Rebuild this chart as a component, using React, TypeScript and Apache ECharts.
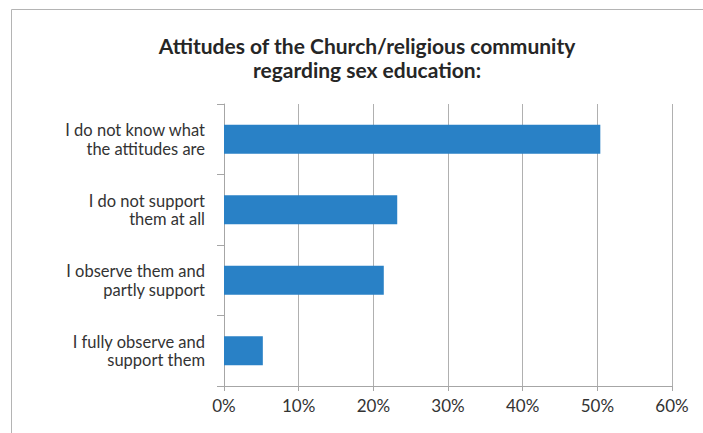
import React, { useEffect, useRef } from "react";
import * as echarts from "echarts";

const categories = [
  "I do not know what\nthe attitudes are",
  "I do not support\nthem at all",
  "I observe them and\npartly support",
  "I fully observe and\nsupport them",
];
const values = [50.4, 23.2, 21.4, 5.2];
const xTicks = { min: 0, max: 60, interval: 10 };
const titleText = "Attitudes of the Church/religious community\nregarding sex education:";

export default function App() {
  const ref = useRef<HTMLDivElement>(null);
  useEffect(() => {
    if (!ref.current) return;
    const chart = echarts.init(ref.current, undefined, { renderer: "svg" });
    const font = "Lato";
    chart.setOption({
      animation: false,
      backgroundColor: "#ffffff",
      title: {
        text: titleText,
        left: 362,
        top: 29,
        textAlign: "center",
        textStyle: {
          fontFamily: font,
          fontWeight: "bold",
          fontSize: 21,
          lineHeight: 23.5,
          color: "#262626",
        },
      },
      graphic: [
        {
          type: "rect",
          shape: { x: 11.5, y: 9.5, width: 800, height: 600 },
          style: { fill: "none", stroke: "#b4b4b4", lineWidth: 1 },
          silent: true,
        },
      ],
      grid: { left: 224, right: 31, top: 104, bottom: 47, containLabel: false },
      xAxis: {
        type: "value",
        min: xTicks.min,
        max: xTicks.max,
        interval: xTicks.interval,
        axisLine: { show: true, lineStyle: { color: "#a6a6a6", width: 1 } },
        axisTick: { show: true, length: 5, lineStyle: { color: "#a6a6a6" } },
        splitLine: { show: true, lineStyle: { color: "#b0b0b0", width: 1 } },
        axisLabel: {
          formatter: "{value}%",
          fontFamily: font,
          fontSize: 17,
          color: "#333333",
          margin: 11,
        },
      },
      yAxis: {
        type: "category",
        data: categories,
        inverse: true,
        axisLine: { show: true, lineStyle: { color: "#a6a6a6", width: 1 } },
        axisTick: { show: true, length: 7, lineStyle: { color: "#a6a6a6" } },
        axisLabel: {
          fontFamily: font,
          fontSize: 16.5,
          lineHeight: 18.5,
          color: "#333333",
          align: "right",
          margin: 19,
        },
      },
      series: [
        {
          type: "bar",
          data: values,
          barWidth: "41%",
          itemStyle: { color: "#2981c6" },
        },
      ],
    });
    return () => chart.dispose();
  }, []);
  return (
    <div
      ref={ref}
      style={{ position: "absolute", left: 0, top: 0, width: 703, height: 433 }}
    />
  );
}
